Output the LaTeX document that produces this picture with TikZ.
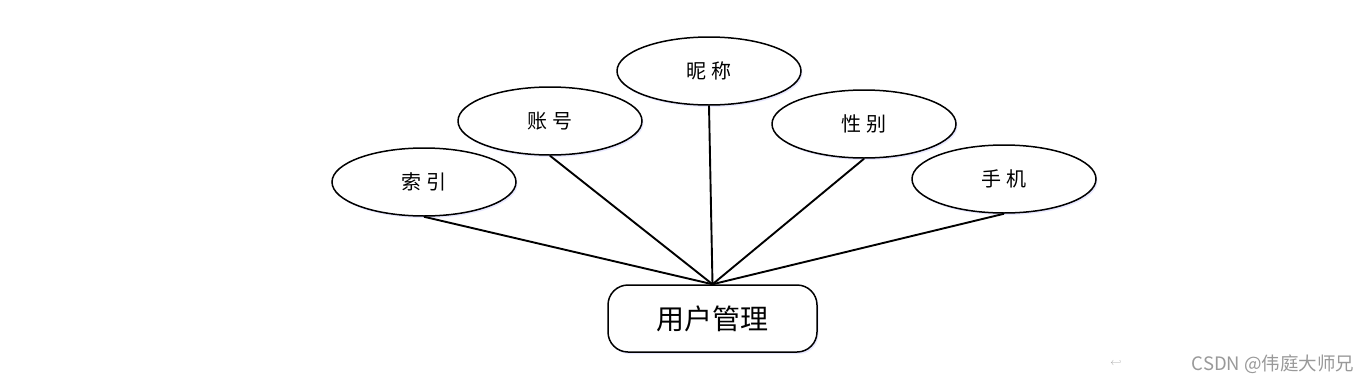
\documentclass[tikz,border=0pt]{standalone}
\usepackage{fontspec}
\newfontfamily\cjk{Noto Sans CJK SC}
\usetikzlibrary{shapes.geometric,shadows}
\begin{document}
\begin{tikzpicture}[x=1pt,y=-1pt,
  attr/.style={ellipse,draw=black,line width=1.5pt,fill=white,minimum width=184pt,minimum height=68pt,inner sep=0pt,
    font=\cjk\fontsize{20}{20}\selectfont,
    drop shadow={shadow xshift=1.5pt,shadow yshift=-2pt,fill=blue!25,opacity=0.35}},
  ent/.style={rectangle,rounded corners=20pt,draw=black,line width=1.5pt,fill=white,minimum width=209pt,minimum height=67pt,inner sep=0pt,
    font=\cjk\fontsize{28}{28}\selectfont,
    drop shadow={shadow xshift=1.5pt,shadow yshift=-2pt,fill=blue!25,opacity=0.35}},
  link/.style={line width=1.9pt,draw=black}]
\useasboundingbox (0,0) rectangle (1372,383);
\fill[white] (0,0) rectangle (1372,383);
\node[attr] (suoyin) at (424,182) {索\hspace{5pt}引};
\node[attr] (zhanghao) at (550,121) {账\hspace{5pt}号};
\node[attr] (nicheng) at (709,71) {昵\hspace{5pt}称};
\node[attr] (xingbie) at (864,124) {性\hspace{5pt}别};
\node[attr] (shouji) at (1004,179) {手\hspace{5pt}机};
\node[ent] (yonghu) at (712.5,318.5) {用户管理};
\coordinate (hub) at (yonghu.north);
\foreach \n in {suoyin,zhanghao,nicheng,xingbie,shouji}
  \draw[link] (\n.south) -- (hub);
\node[text=gray!70,font=\fontsize{10}{10}\selectfont] (ret) at (1116,363) {$\hookleftarrow$};
\node[text=gray!80,font=\cjk\fontsize{18.5}{18.5}\selectfont,anchor=east] (wm) at (1358,364) {CSDN @伟庭大师兄};
\end{tikzpicture}
\end{document}
